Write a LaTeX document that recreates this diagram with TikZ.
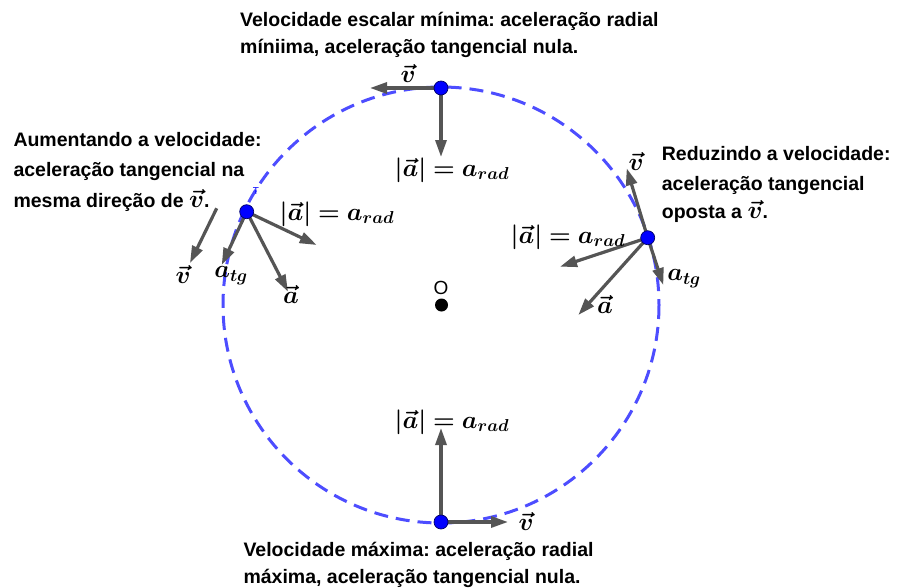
\documentclass[tikz,border=0pt]{standalone}
\usepackage{fontspec}
\setmainfont{Liberation Sans}
\usepackage{bm}
\usetikzlibrary{arrows.meta}
\definecolor{circblue}{RGB}{77,77,255}
\definecolor{vecgray}{RGB}{85,85,85}
\definecolor{ptblue}{RGB}{0,0,255}
\frenchspacing
\tikzset{
  vecarrow/.style={draw=vecgray, line width=3.2pt, -{Triangle[length=17pt,width=11pt]}},
  ptdot/.style={circle, fill=ptblue, draw=black!60!blue, line width=0.7pt, minimum size=14pt, inner sep=0pt},
  odot/.style={circle, fill=black, minimum size=13pt, inner sep=0pt},
  mlbl/.style={font=\fontsize{24}{24}\selectfont, inner sep=0pt},
  txt/.style={font=\fontsize{19.5}{24}\selectfont\bfseries, anchor=base west, inner sep=0pt},
}
\newcommand{\myvv}{\ensuremath{\bm{\vec v}}}
\newcommand{\mylab}{$\bm{|\vec a| = a_{rad}}$}
\begin{document}
\begin{tikzpicture}[x=1pt,y=-1pt]
\useasboundingbox (0,0) rectangle (900,587);
% circle
\draw[circblue, line width=3pt, dash pattern=on 14pt off 8pt] (441,305) circle[radius=218];
% point centres
\coordinate (c1) at (441,88);
\coordinate (c2) at (441,522);
\coordinate (c3) at (246.7,211.7);
\coordinate (c4) at (647.7,237.7);
% arrow ends
\coordinate (t1v) at (370,88);
\coordinate (t1a) at (441,157);
\coordinate (t2v) at (508,522);
\coordinate (t2a) at (441,428);
\coordinate (s3) at (216.7,208.3);
\coordinate (t3v) at (190,263);
\coordinate (t3tg) at (221.7,265);
\coordinate (t3a) at (288,291.7);
\coordinate (t3r) at (316.7,245);
\coordinate (t4v) at (626.7,168.3);
\coordinate (t4tg) at (663.3,285);
\coordinate (t4r) at (560,266.7);
\coordinate (t4a) at (578.3,315);
% vectors
\draw[vecarrow] (c1) -- (t1v);
\draw[vecarrow] (c1) -- (t1a);
\draw[vecarrow] (c2) -- (t2v);
\draw[vecarrow] (c2) -- (t2a);
\draw[vecarrow] (s3) -- (t3v);
\draw[vecarrow] (c3) -- (t3tg);
\draw[vecarrow] (c3) -- (t3a);
\draw[vecarrow] (c3) -- (t3r);
\draw[vecarrow] (c4) -- (t4v);
\draw[vecarrow] (c4) -- (t4tg);
\draw[vecarrow] (c4) -- (t4r);
\draw[vecarrow] (c4) -- (t4a);
% points
\node[ptdot] (P1) at (c1) {};
\node[ptdot] (P2) at (c2) {};
\node[ptdot] (P3) at (c3) {};
\node[ptdot] (P4) at (c4) {};
\node[odot] (O) at (441.5,305) {};
\node[font=\fontsize{19}{19}\selectfont, inner sep=0pt] (Olab) at (441,287.5) {O};
\node[text=ptblue, font=\fontsize{10}{10}\selectfont, inner sep=0pt] (Tlab) at (256,191) {T};
% vector labels
\node[mlbl] (l1v) at (408,73) {$\bm{\vec v}$};
\node[mlbl] (l1a) at (452,170) {\mylab};
\node[mlbl] (l2a) at (452,422) {\mylab};
\node[mlbl] (l2v) at (526,521) {$\bm{\vec v}$};
\node[mlbl] (l3v) at (183,274) {$\bm{\vec v}$};
\node[mlbl] (l3tg) at (231,276) {$\bm{a_{tg}}$};
\node[mlbl] (l3a) at (291,294) {$\bm{\vec a}$};
\node[mlbl] (l3r) at (337,214) {\mylab};
\node[mlbl] (l4v) at (636,161) {$\bm{\vec v}$};
\node[mlbl] (l4tg) at (684,279) {$\bm{a_{tg}}$};
\node[mlbl] (l4a) at (605,304) {$\bm{\vec a}$};
\node[mlbl] (l4r) at (568,237) {\mylab};
% texts
\node[txt] (ta1) at (240,26.7) {Velocidade escalar mínima: aceleração radial};
\node[txt] (ta2) at (240,53.3) {míniima, aceleração tangencial nula.};
\node[txt] (tb1) at (13.3,146.7) {Aumentando a velocidade:};
\node[txt] (tb2) at (13.3,176.7) {aceleração tangencial na};
\node[txt] (tb3) at (13.3,207) {mesma direção de {\fontsize{23}{23}\selectfont\myvv}.};
\node[txt] (tc1) at (661.7,160.7) {Reduzindo a velocidade:};
\node[txt] (tc2) at (661.7,190) {aceleração tangencial};
\node[txt] (tc3) at (661.7,218.3) {oposta a {\fontsize{23}{23}\selectfont\myvv}.};
\node[txt] (td1) at (243.3,556) {Velocidade máxima: aceleração radial};
\node[txt] (td2) at (243.3,583.3) {máxima, aceleração tangencial nula.};
\end{tikzpicture}
\end{document}
